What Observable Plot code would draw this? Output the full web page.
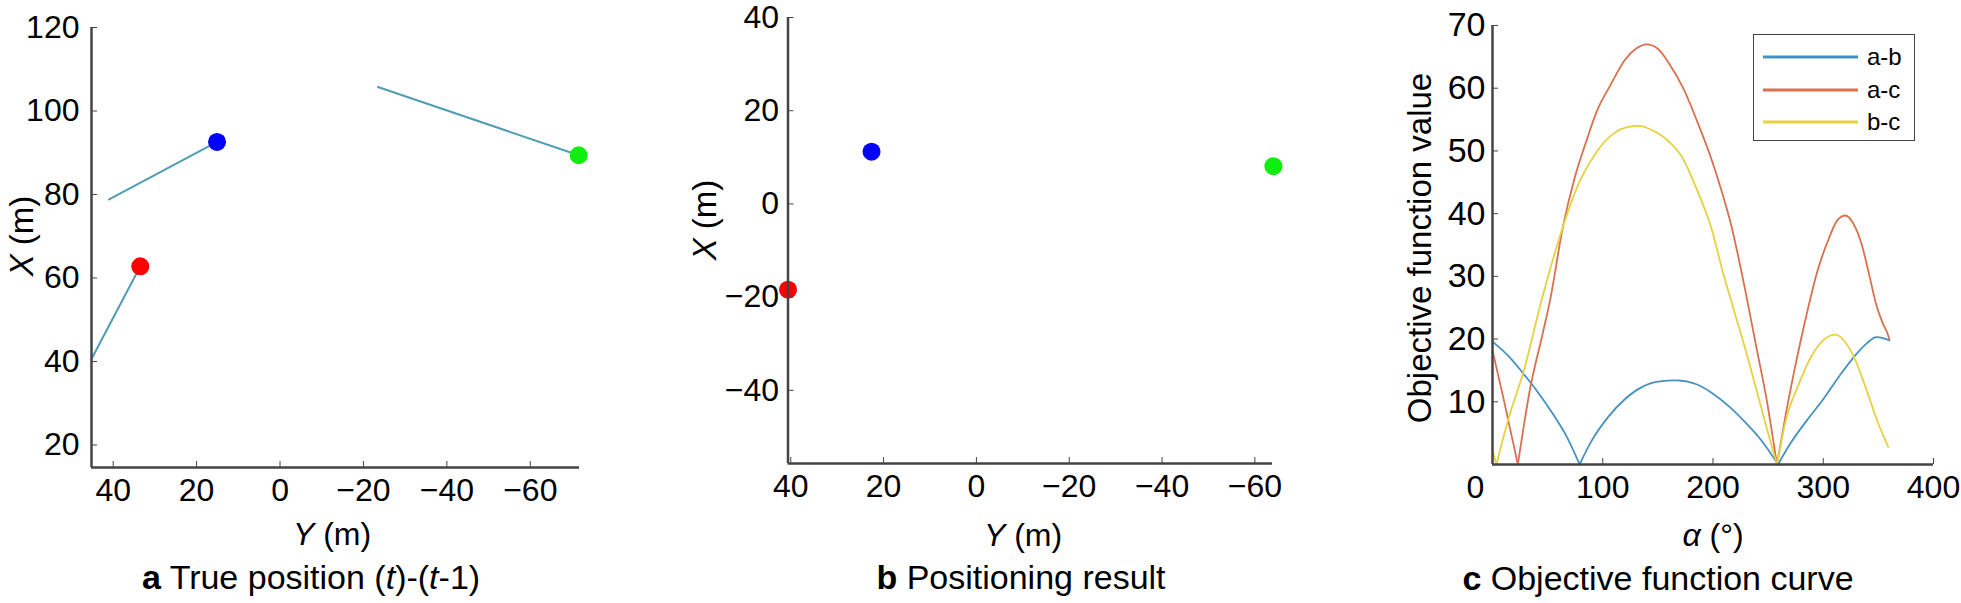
<!DOCTYPE html>
<html>
<head>
<meta charset="utf-8">
<script src="https://cdn.jsdelivr.net/npm/d3@7"></script>
<script src="https://cdn.jsdelivr.net/npm/@observablehq/plot@0.6"></script>
<style>
  body { margin: 0; background: #fff; }
  #root { position: relative; width: 1961px; height: 603px; overflow: hidden;
          font-family: "Liberation Sans", Arial, Helvetica, sans-serif; color: #000; }
  .panel { position: absolute; top: 0; }
  .lbl { position: absolute; white-space: nowrap; line-height: 1; transform: translate(-50%, -50%); }
  .rot { transform: translate(-50%, -50%) rotate(-90deg); }
  .legend { position: absolute; left: 1753px; top: 34px; width: 160px; height: 105px;
            border: 1.5px solid #444; background: #fff; }
  .legend .row { position: absolute; left: 0; height: 24px; width: 160px; }
  .legend svg { position: absolute; left: 9px; top: 10px; }
  .legend span { position: absolute; left: 113px; top: 0; font-size: 24px; line-height: 24px; }
</style>
</head>
<body>
<div id="root"></div>
<script>
// ---------- Data ----------
// Targets (point colours)
const targetColors = ["#ff0000", "#0000ff", "#10ee10"];

// Panel a: true positions at time t and t-1 (Y, X in metres)
const trueY_t    = [33.5, 15.1, -71.6];
const trueX_t    = [62.8, 92.6, 89.4];
const trueY_prev = [45.2, 41.2, -23.3];
const trueX_prev = [40.6, 78.7, 105.8];

// Panel b: positioning result (Y, X in metres)
const estY = [40.6, 22.6, -64.0];
const estX = [-18.4, 11.2, 8.1];

// Panel c: objective function curves
const pairNames  = ["a-b", "a-c", "b-c"];
const pairColors = ["#4592c0", "#d9704f", "#e6d240"];

const abAlpha = [0, 15, 27, 40, 55, 68, 79, 90, 105, 120, 135, 150, 167, 185, 200, 215, 230, 245, 259, 270, 285, 300, 315, 330, 340, 348, 355, 360];
const abValue = [19.6, 17.2, 14.7, 11.8, 8, 4.2, 0, 3.8, 7.6, 10.4, 12.3, 13.2, 13.4, 12.8, 11.3, 9.2, 6.6, 3.6, 0, 3.3, 7, 10.4, 14.2, 17.6, 19.4, 20.3, 20.1, 19.8];

const acAlpha = [0, 10, 23, 34, 45, 52, 64, 75, 85, 95, 107, 120, 130, 140, 150, 160, 173, 185, 198, 208, 216, 229, 239, 249, 258, 266, 275, 285, 295, 305, 313, 320, 327, 335, 342, 348, 354, 358, 360];
const acValue = [18.2, 10.5, 0, 12, 20.5, 26, 38, 46, 51.5, 56.5, 60.5, 64.5, 66.3, 67, 66.3, 64, 60, 55, 49, 43.5, 38.5, 28, 19, 10, 0, 8, 16, 24, 31, 36, 39, 39.7, 38.5, 35, 30, 25.5, 22.5, 21, 20];

const bcAlpha = [0, 3.6, 15, 28, 45, 64, 80, 95, 110, 122, 133, 145, 160, 172, 185, 198, 210, 220, 230, 240, 250, 258, 266, 278, 290, 300, 311, 320, 330, 340, 350, 359];
const bcValue = [2.2, 0, 7.6, 14.7, 26.5, 38, 45.5, 50, 52.8, 53.8, 54, 53.3, 51.5, 49, 44, 38, 30, 24, 18, 11.5, 5, 0, 7, 12.9, 17.5, 19.8, 20.7, 19.5, 16.3, 11.5, 6.5, 2.8];

// Scales / ticks
const aXDomain = [45.2, -71.8], aYDomain = [14.6, 120];
const bXDomain = [40.6, -63.8], bYDomain = [-55.7, 40];
const cXDomain = [0, 400],      cYDomain = [0, 70];
const posXTicks = [40, 20, 0, -20, -40, -60];
const aYTicks = [20, 40, 60, 80, 100, 120];
const bYTicks = [-40, -20, 0, 20, 40];
const cXTicks = [100, 200, 300, 400];
const cYTicks = [10, 20, 30, 40, 50, 60, 70];

// ---------- Build tables ----------
const segments = trueY_t.map((_, i) => ({
  y1: trueY_prev[i], x1: trueX_prev[i], y2: trueY_t[i], x2: trueX_t[i], color: targetColors[i]
}));
const truePts = trueY_t.map((_, i) => ({Y: trueY_t[i], X: trueX_t[i], color: targetColors[i]}));
const estPts  = estY.map((_, i) => ({Y: estY[i], X: estX[i], color: targetColors[i]}));

// split each curve into arcs at its zero (cusp) points so arcs are smooth and cusps stay sharp
function arcs(alpha, value, pair) {
  const rows = [];
  let arc = 0;
  alpha.forEach((a, i) => {
    rows.push({alpha: a, value: value[i], pair, arc: pair + "-" + arc});
    if (value[i] === 0 && i > 0 && i < alpha.length - 1) {
      arc++;
      rows.push({alpha: a, value: value[i], pair, arc: pair + "-" + arc});
    }
  });
  return rows;
}
const curves = [
  ...arcs(abAlpha, abValue, "a-b"),
  ...arcs(acAlpha, acValue, "a-c"),
  ...arcs(bcAlpha, bcValue, "b-c")
];

const FONT = '"Liberation Sans", Arial, Helvetica, sans-serif';
const AXIS = "#444";
const baseStyle = (fs) => ({fontFamily: FONT, fontSize: fs, color: "#000", background: "transparent", overflow: "visible"});

const root = document.getElementById("root");
function place(el, left) {
  el.classList.add("panel");
  el.style.left = left + "px";
  root.appendChild(el);
}

// Panel a
const pa = Plot.plot({
  width: 600, height: 520,
  marginLeft: 91, marginRight: 21, marginTop: 27, marginBottom: 53,
  style: baseStyle("32px"),
  x: {domain: aXDomain},
  y: {domain: aYDomain},
  color: {type: "identity"},
  marks: [
    Plot.link(segments, {x1: "y1", y1: "x1", x2: "y2", y2: "x2", stroke: "#4f9db5", strokeWidth: 2}),
    Plot.dot(truePts, {x: "Y", y: "X", fill: "color", r: 9, stroke: null}),
    Plot.ruleY([aYDomain[0]], {stroke: AXIS, strokeWidth: 2.5}),
    Plot.ruleX([aXDomain[0]], {stroke: AXIS, strokeWidth: 2.5}),
    Plot.axisX(posXTicks, {tickSize: -6, tickPadding: 17, label: null, stroke: AXIS}),
    Plot.axisY(aYTicks, {tickSize: -6, tickPadding: 18, label: null, stroke: AXIS})
  ]
});
place(pa, 0);

// Panel b
const pb = Plot.plot({
  width: 600, height: 520,
  marginLeft: 87.5, marginRight: 28, marginTop: 17, marginBottom: 57,
  style: baseStyle("32px"),
  x: {domain: bXDomain},
  y: {domain: bYDomain},
  color: {type: "identity"},
  marks: [
    Plot.dot(estPts, {x: "Y", y: "X", fill: "color", r: 9, stroke: null}),
    Plot.ruleY([bYDomain[0]], {stroke: AXIS, strokeWidth: 2.5}),
    Plot.ruleX([bXDomain[0]], {stroke: AXIS, strokeWidth: 2.5}),
    Plot.axisX(posXTicks, {tickSize: -6, tickPadding: 17, label: null, stroke: AXIS}),
    Plot.axisY(bYTicks, {tickSize: -6, tickPadding: 15, label: null, stroke: AXIS})
  ]
});
place(pb, 700);

// Panel c
const pc = Plot.plot({
  width: 561, height: 520,
  marginLeft: 92, marginRight: 28, marginTop: 25, marginBottom: 56,
  style: baseStyle("32px"),
  x: {domain: cXDomain},
  y: {domain: cYDomain},
  color: {domain: pairNames, range: pairColors},
  marks: [
    Plot.line(curves, {x: "alpha", y: "value", z: "arc", stroke: "pair", strokeWidth: 1.8, curve: "monotone-x"}),
    Plot.ruleY([cYDomain[0]], {stroke: AXIS, strokeWidth: 2.5}),
    Plot.ruleX([cXDomain[0]], {stroke: AXIS, strokeWidth: 2.5}),
    Plot.axisX(cXTicks, {tickSize: -6, tickPadding: 17, label: null, stroke: AXIS}),
    Plot.axisX([cXDomain[0]], {tickSize: 0, tickPadding: 11, dx: -17, label: null}),
    Plot.axisY(cYTicks, {tickSize: -6, tickPadding: 13, label: null, stroke: AXIS, fontSize: 34})
  ]
});
place(pc, 1400);

// ---------- Text ----------
function label(html, x, y, size, rot) {
  const d = document.createElement("div");
  d.className = "lbl" + (rot ? " rot" : "");
  d.style.left = x + "px";
  d.style.top = y + "px";
  d.style.fontSize = size + "px";
  d.innerHTML = html;
  root.appendChild(d);
}
label("<i>Y</i> (m)", 332, 534, 32);
label("<i>Y</i> (m)", 1023, 535, 32);
label("<i>α</i> (°)", 1713, 535, 32);
label("<i>X</i> (m)", 21, 236, 33, true);
label("<i>X</i> (m)", 704, 220, 33, true);
label("Objective function value", 1419, 248, 33, true);
label("<b>a</b> True position (<i>t</i>)-(<i>t</i>-1)", 311, 577, 34);
label("<b>b</b> Positioning result", 1021, 577, 34);
label("<b>c</b> Objective function curve", 1658, 578, 34);

// Legend
const lg = document.createElement("div");
lg.className = "legend";
pairNames.forEach((name, i) => {
  const row = document.createElement("div");
  row.className = "row";
  row.style.top = (10 + i * 32.5) + "px";
  row.innerHTML = `<svg width="96" height="4" style="top:10px"><line x1="0" y1="2" x2="95" y2="2" stroke="${pairColors[i]}" stroke-width="3"/></svg><span>${name}</span>`;
  lg.appendChild(row);
});
root.appendChild(lg);
</script>
</body>
</html>
